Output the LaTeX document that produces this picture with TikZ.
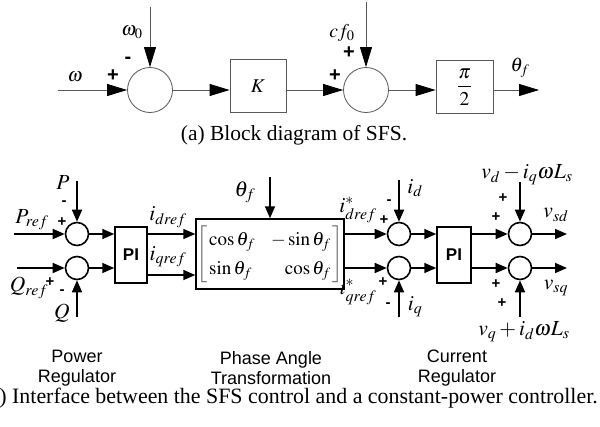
\documentclass[tikz,border=0pt]{standalone}
\usepackage{amsmath}
\usepackage{mathptmx}
\usepackage[no-math]{fontspec}
\setmainfont{Liberation Serif}
\setsansfont{Liberation Sans}
\usepackage{xcolor}
\usepackage{tikz}
\usetikzlibrary{arrows.meta}
\definecolor{linegray}{gray}{0.35}
\definecolor{bracketgray}{gray}{0.45}

\begin{document}
\begin{tikzpicture}[x=1pt, y=-1pt,
  sumA/.style={draw=linegray, circle, minimum size=45pt, inner sep=0pt, line width=0.8pt},
  blockA/.style={draw=linegray, line width=0.8pt, minimum width=56pt, minimum height=53pt, inner sep=0pt},
  arrA/.style={draw=linegray, line width=0.8pt, -{Triangle[length=20pt, width=12pt, color=black]}},
  sumB/.style={draw, circle, minimum size=23pt, inner sep=0pt, line width=1.6pt},
  blockB/.style={draw, line width=1.5pt, inner sep=0pt, font=\fontsize{17}{19}\selectfont\sffamily\bfseries},
  arrB/.style={line width=1.6pt, -{Triangle[length=12pt, width=10pt]}},
  signA/.style={font=\fontsize{20}{20}\selectfont\sffamily\bfseries, inner sep=0pt},
  signB/.style={font=\fontsize{15}{15}\selectfont\sffamily\bfseries, inner sep=0pt},
  lblA/.style={font=\fontsize{19.5}{21}\selectfont, inner sep=0pt},
  lblB/.style={font=\fontsize{21.5}{24}\selectfont, inner sep=0pt},
  part/.style={font=\fontsize{18}{20}\selectfont\sffamily, align=center, inner sep=0pt},
  caption/.style={font=\fontsize{21.5}{24}\selectfont, inner sep=0pt}
]
\useasboundingbox (0,0) rectangle (600,426);

% (a) block diagram
\node[sumA] (sumA1) at (150,90) {};
\node[blockA, lblA] (gainK) at (258,86) {$K$};
\node[sumA] (sumA2) at (366,90) {};
\node[blockA, lblA, minimum width=57pt] (gainPi) at (464.5,87) {$\dfrac{\pi}{2}$};

\coordinate (inW) at (58,90);
\coordinate (inWz) at (150,7);
\coordinate (inCf) at (366,2);
\coordinate (outTh) at (539,90);

\node[lblA] (lblOmega) at (75,77) {$\omega$};
\node[lblA] (lblOmegaZero) at (132,32) {$\omega_0$};
\node[signA] (sgnAm) at (128,60) {-};
\node[signA] (sgnAp) at (113,76) {+};
\node[lblA] (lblCf) at (342,33) {$cf_0$};
\node[signA] (sgnBp) at (349,53) {+};
\node[signA] (sgnBq) at (335,76) {+};
\node[lblA] (lblThA) at (520,68) {$\theta_f$};
\node[caption] (capA) at (294,135) {(a) Block diagram of SFS.};

\draw[arrA] (inW) -- (sumA1);
\draw[arrA] (inWz) -- (sumA1);
\draw[arrA] (sumA1) -- (sumA1 -| gainK.west);
\draw[arrA] (gainK.east |- sumA2) -- (sumA2);
\draw[arrA] (inCf) -- (sumA2);
\draw[arrA] (sumA2) -- (sumA2 -| gainPi.west);
\draw[arrA] (gainPi.east |- sumA2) -- (outTh);

% (b) interface
\node[sumB] (sumP) at (77,234) {};
\node[sumB] (sumQ) at (77,268) {};
\node[blockB, minimum width=32pt, minimum height=56pt] (piPQ) at (131,255) {PI};
\node[draw, line width=1.5pt, minimum width=134pt, minimum height=70pt, inner sep=0pt,
  font=\fontsize{19}{29}\selectfont] (trans) at (270,254)
  {$\color{bracketgray}\left[\color{black}\begin{array}{@{\,}l@{\hspace{16pt}}r@{\,}}
    \cos\theta_f & -\sin\theta_f \\ \sin\theta_f & \cos\theta_f
  \end{array}\color{bracketgray}\right]$};
\node[sumB] (sumId) at (399,234) {};
\node[sumB] (sumIq) at (399,268) {};
\node[blockB, minimum width=34pt, minimum height=56pt] (piI) at (454,255) {PI};
\node[sumB] (sumVd) at (520,234) {};
\node[sumB] (sumVq) at (520,268) {};

\coordinate (inPref) at (14,234);
\coordinate (inP) at (77,181);
\coordinate (inQref) at (17,268);
\coordinate (inQ) at (77,317);
\coordinate (inTh) at (270,177);
\coordinate (inId) at (399,180);
\coordinate (inIq) at (399,317);
\coordinate (inVd) at (520,182);
\coordinate (inVq) at (520,317);
\coordinate (outVsd) at (567,234);
\coordinate (outVsq) at (567,268);

\node[lblB] (lblP) at (63,183) {$P$};
\node[signB] (sgnPm) at (64,203) {-};
\node[signB] (sgnPp) at (62,222) {+};
\node[lblB] (lblPref) at (32,220) {$P_{ref}$};
\node[lblB] (lblQref) at (29,288) {$Q_{ref}$};
\node[signB] (sgnQp) at (50,282) {+};
\node[signB] (sgnQm) at (62,292) {-};
\node[lblB] (lblQ) at (62,313) {$Q$};
\node[lblB] (lblIdref) at (168,217) {$i_{dref}$};
\node[lblB] (lblIqref) at (168,257) {$i_{qref}$};
\node[lblB] (lblThB) at (245,192) {$\theta_f$};
\node[lblB] (lblIdstar) at (358,210) {$i^*_{dref}$};
\node[signB] (sgnIdp) at (384,220) {+};
\node[signB] (sgnIdm) at (389,202) {-};
\node[lblB] (lblId) at (415,188) {$i_d$};
\node[lblB] (lblIqstar) at (358,292) {$i^*_{qref}$};
\node[signB] (sgnIqp) at (383,282) {+};
\node[signB] (sgnIqm) at (388,305) {-};
\node[lblB] (lblIq) at (415,307) {$i_q$};
\node[lblB] (lblVd) at (527,175) {$v_d - i_q\omega L_s$};
\node[signB] (sgnVda) at (503,198) {+};
\node[signB] (sgnVdb) at (496,217) {+};
\node[lblB] (lblVsd) at (556,215) {$v_{sd}$};
\node[lblB] (lblVq) at (524,332) {$v_q + i_d\omega L_s$};
\node[signB] (sgnVqa) at (496,284) {+};
\node[signB] (sgnVqb) at (502,303) {+};
\node[lblB] (lblVsq) at (556,288) {$v_{sq}$};

\node[part] (partPower) at (77,368) {Power\\Regulator};
\node[part] (partPhase) at (271,368) {Phase Angle\\Transformation};
\node[part] (partCurrent) at (457,368) {Current\\Regulator};
\node[caption, font=\fontsize{21.9}{24}\selectfont, anchor=east] (capB) at (598,398) {(b) Interface between the SFS control and a constant-power controller.};

\draw[arrB] (inPref) -- (sumP);
\draw[arrB] (inP) -- (sumP);
\draw[arrB] (inQref) -- (sumQ);
\draw[arrB] (inQ) -- (sumQ);
\draw[arrB] (sumP) -- (sumP -| piPQ.west);
\draw[arrB] (sumQ) -- (sumQ -| piPQ.west);
\draw[arrB] (sumP -| piPQ.east) -- (sumP -| trans.west);
\draw[arrB] ([yshift=-20pt]piPQ.east) -- ([yshift=-20pt]piPQ.east -| trans.west);
\draw[arrB] (inTh) -- (trans);
\draw[arrB] (sumId -| trans.east) -- (sumId);
\draw[arrB] (sumIq -| trans.east) -- (sumIq);
\draw[arrB] (inId) -- (sumId);
\draw[arrB] (inIq) -- (sumIq);
\draw[arrB] (sumId) -- (sumId -| piI.west);
\draw[arrB] (sumIq) -- (sumIq -| piI.west);
\draw[arrB] (sumVd -| piI.east) -- (sumVd);
\draw[arrB] (sumVq -| piI.east) -- (sumVq);
\draw[arrB] (inVd) -- (sumVd);
\draw[arrB] (inVq) -- (sumVq);
\draw[arrB] (sumVd) -- (outVsd);
\draw[arrB] (sumVq) -- (outVsq);
\end{tikzpicture}
\end{document}
